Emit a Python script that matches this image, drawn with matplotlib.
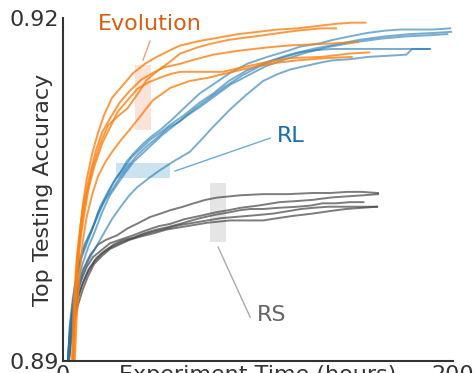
import matplotlib
matplotlib.use('Agg')
import matplotlib.pyplot as plt
from matplotlib.patches import Rectangle

# Evolution runs (hours, top testing accuracy)
evo_hours = [
    [5, 6, 7, 8.5, 10, 12, 15, 18, 21, 25, 30, 36, 42, 48, 55, 60, 70, 80, 90, 100, 110, 120, 130, 140, 148, 155],
    [5.5, 6.5, 8, 10, 12, 15, 19, 23, 28, 33, 38, 43, 50, 55, 60, 70, 77, 85, 94, 103, 111, 120, 132, 140],
    [4.5, 5.5, 7, 9, 11, 14, 17, 20, 24, 29, 34, 40, 46, 52, 60, 68, 77, 88, 103, 115, 128, 140, 151],
    [5, 6, 7.5, 9, 11, 13, 16, 20, 24, 28, 33, 38, 44, 50, 55, 60, 70, 82, 92, 103, 116, 132, 147, 157],
    [6, 7, 8.5, 10, 12, 15, 18, 22, 26, 30, 34, 40, 46, 55, 65, 75, 82, 92, 100, 110, 120, 135, 148],
]
evo_acc = [
    [.8900, .8945, .8985, .9010, .9035, .9058, .9082, .9100, .9115, .9130, .9140, .9152, .9160, .9166, .9172, .9176,
     .9180, .9183, .9186, .9188, .9190, .9191, .9193, .9195, .9196, .9196],
    [.8900, .8950, .8995, .9025, .9045, .9068, .9090, .9106, .9114, .9121, .9133, .9146, .9156, .9162, .9169, .9175,
     .9178, .9181, .9183, .9185, .9187, .9189, .9191, .9191],
    [.8900, .8952, .8990, .9020, .9042, .9065, .9085, .9100, .9112, .9126, .9136, .9146, .9152, .9157, .9160, .9164,
     .9168, .9171, .9174, .9176, .9177, .9178, .9179],
    [.8900, .8940, .8980, .9008, .9030, .9050, .9070, .9090, .9104, .9118, .9128, .9138, .9144, .9148, .9151, .9153,
     .9153, .9153, .9157, .9161, .9165, .9166, .9169, .9170],
    [.8900, .8938, .8975, .9003, .9025, .9046, .9062, .9075, .9085, .9094, .9102, .9115, .9128, .9139, .9145, .9148,
     .9151, .9155, .9158, .9161, .9163, .9165, .9166],
]

# RL runs
rl_hours = [
    [2.5, 3.5, 4.6, 6, 8.7, 11, 13.8, 17.4, 21, 25.6, 29, 32.8, 37, 41, 45, 49.7, 56.4, 60, 65, 70, 77, 85.6, 94.4,
     104.6, 116.4, 121.5, 131.8, 138.5, 147, 156, 165, 172.8, 181, 189.7, 198.5],
    [2.5, 3.5, 5, 7, 9, 12, 15, 19, 23, 27, 31, 35, 40, 45, 50, 56, 62, 70, 77, 85, 94, 105, 116, 128, 140, 152, 165,
     178, 190, 199],
    [3, 4, 5.5, 7.5, 10, 13, 16, 20, 24, 28, 32, 36, 41, 46, 51, 57, 63, 70, 78, 86, 95, 104, 114, 125, 137, 150, 163,
     176, 188, 197],
    [2.5, 3.5, 5, 7, 9.5, 12, 15, 18, 22, 26, 30, 34, 38, 43, 48, 54, 60, 67, 75, 83, 92, 101, 110, 121.5, 130, 138,
     150, 165, 178, 188],
    [3, 4, 5.5, 7.5, 10, 13, 17, 21, 25, 30, 34, 38, 44, 49.7, 57, 65, 70, 77, 85.6, 94, 102.6, 110, 116.4, 124, 131.8,
     138, 147, 156, 166, 176, 179, 188],
]
rl_acc = [
    [.8900, .8925, .8945, .8965, .8990, .9002, .9012, .9025, .9040, .9055, .9064, .9075, .9083, .9090, .9096, .9102,
     .9112, .9118, .9126, .9134, .9142, .9152, .9160, .9166, .9172, .9175, .9178, .9181, .9184, .9187, .9189, .9190,
     .9190, .9190, .9191],
    [.8900, .8930, .8950, .8972, .8988, .9002, .9015, .9035, .9048, .9060, .9068, .9078, .9086, .9094, .9100, .9108,
     .9115, .9126, .9134, .9145, .9154, .9162, .9168, .9173, .9177, .9181, .9184, .9186, .9187, .9188],
    [.8900, .8928, .8948, .8968, .8985, .9000, .9012, .9030, .9045, .9055, .9065, .9074, .9082, .9090, .9098, .9106,
     .9114, .9122, .9132, .9142, .9150, .9158, .9164, .9170, .9175, .9179, .9182, .9184, .9185, .9186],
    [.8900, .8932, .8955, .8975, .8992, .9004, .9016, .9030, .9042, .9052, .9063, .9072, .9080, .9088, .9095, .9104,
     .9110, .9120, .9130, .9140, .9150, .9158, .9164, .9170, .9172, .9173, .9173, .9173, .9173, .9173],
    [.8900, .8925, .8942, .8960, .8975, .8988, .9000, .9012, .9024, .9036, .9045, .9052, .9060, .9067, .9075, .9083,
     .9092, .9105, .9120, .9133, .9145, .9151, .9155, .9158, .9161, .9163, .9164, .9166, .9167, .9168, .9173, .9173],
]

# Random search runs
rs_hours = [
    [2.5, 3.5, 5, 7, 10.3, 14, 18, 22, 27.7, 33, 39, 44.6, 50, 55, 61.5, 67, 73, 79, 85, 90.8, 102.6, 115, 128, 137,
     145.6, 153, 161.5],
    [2.5, 3.6, 5.1, 7, 8.7, 12, 15.4, 19, 24, 29, 35.9, 42, 49, 55, 62, 70.3, 78, 85, 90.8, 100, 111, 120, 128, 137,
     145, 154, 161.5],
    [3, 4, 5.5, 7.5, 10, 13, 17, 21, 26, 31, 36, 42, 48, 53.3, 60, 66, 70.3, 78, 85, 90.8, 96, 102.6, 110, 120, 127,
     133, 140, 147, 154],
    [2.5, 3.5, 5, 7, 9.5, 12.5, 16, 20, 25, 30, 35, 40, 46, 53, 60, 67, 74, 81, 88, 95, 101.6, 107.7, 115, 122, 128,
     136, 145.6, 153, 161],
    [3, 4, 5.5, 7.5, 10, 13, 16, 20, 24, 29, 34, 40, 47, 53, 60, 67, 74, 80, 85.6, 93, 102.6, 110, 118, 128, 136, 145,
     153, 161],
]
rs_acc = [
    [.8900, .8925, .8945, .8962, .8980, .8993, .9002, .9006, .9010, .9016, .9021, .9026, .9029, .9032, .9035, .9038,
     .9041, .9043, .9044, .9045, .9046, .9046, .9047, .9047, .9048, .9048, .9047],
    [.8900, .8922, .8942, .8958, .8968, .8982, .8991, .8996, .9003, .9006, .9010, .9014, .9018, .9020, .9024, .9027,
     .9030, .9032, .9034, .9036, .9039, .9040, .9041, .9043, .9044, .9045, .9046],
    [.8900, .8920, .8940, .8955, .8968, .8980, .8990, .8996, .9002, .9006, .9008, .9012, .9015, .9017, .9020, .9023,
     .9025, .9028, .9030, .9032, .9033, .9033, .9034, .9035, .9036, .9038, .9038, .9039, .9039],
    [.8900, .8918, .8936, .8952, .8965, .8977, .8987, .8994, .9000, .9004, .9007, .9010, .9013, .9016, .9019, .9021,
     .9023, .9025, .9026, .9027, .9028, .9029, .9031, .9033, .9034, .9035, .9035, .9035, .9035],
    [.8900, .8915, .8932, .8948, .8962, .8975, .8985, .8992, .8998, .9002, .9006, .9009, .9012, .9015, .9017, .9019,
     .9021, .9022, .9023, .9023, .9023, .9025, .9027, .9029, .9031, .9033, .9034, .9035],
]

fig = plt.figure(figsize=(4.74, 3.73), dpi=100)
ax = fig.add_axes([0.133, 0.032, 0.823, 0.9195])

for h, a in zip(rs_hours, rs_acc):
    ax.plot(h, a, color='#444444', alpha=0.7, lw=1.4)
for h, a in zip(rl_hours, rl_acc):
    ax.plot(h, a, color='#1f77b4', alpha=0.6, lw=1.4)
for h, a in zip(evo_hours, evo_acc):
    ax.plot(h, a, color='#ff7f0e', alpha=0.8, lw=1.4)

# shaded markers and labels
ax.add_patch(Rectangle((37, 0.9102), 8, 0.0057, color='#e6550d', alpha=0.16, lw=0))
ax.add_patch(Rectangle((27.2, 0.9060), 27.7, 0.0013, color='#6baed6', alpha=0.35, lw=0))
ax.add_patch(Rectangle((75.4, 0.9004), 8.2, 0.0052, color='#999999', alpha=0.25, lw=0))

ax.plot([41.0, 44.6], [0.91633, 0.91799], color='#f0a070', lw=1)
ax.plot([57.4, 106.2], [0.90662, 0.90950], color='#6baed6', lw=1)
ax.plot([79.5, 95.9], [0.89997, 0.89385], color='#aaaaaa', lw=1)

ax.text(44.6, 0.91948, 'Evolution', color='#d95f0e', fontsize=16, ha='center', va='center')
ax.text(109.7, 0.90968, 'RL', color='#1a6faa', fontsize=16, ha='left', va='center')
ax.text(99.5, 0.89402, 'RS', color='#666666', fontsize=16, ha='left', va='center')

ax.set_xlim(0, 200)
ax.set_ylim(0.89, 0.92)
ax.set_xticks([0, 200])
ax.set_xticklabels(['0', '200'])
ax.set_yticks([0.89, 0.92])
ax.set_yticklabels(['0.89', '0.92'])
ax.tick_params(length=0, pad=3, labelsize=16, colors='#333333')

for side in ['top', 'right']:
    ax.spines[side].set_visible(False)
for side in ['left', 'bottom']:
    ax.spines[side].set_color('#333333')
    ax.spines[side].set_linewidth(1.5)

ax.set_xlabel('Experiment Time (hours)', fontsize=16, color='#333333')
ax.set_ylabel('Top Testing Accuracy', fontsize=16, color='#333333')
ax.xaxis.set_label_coords(0.5, -0.012)
ax.yaxis.set_label_coords(-0.026, 0.5)

fig.savefig('out.png', dpi=100)
